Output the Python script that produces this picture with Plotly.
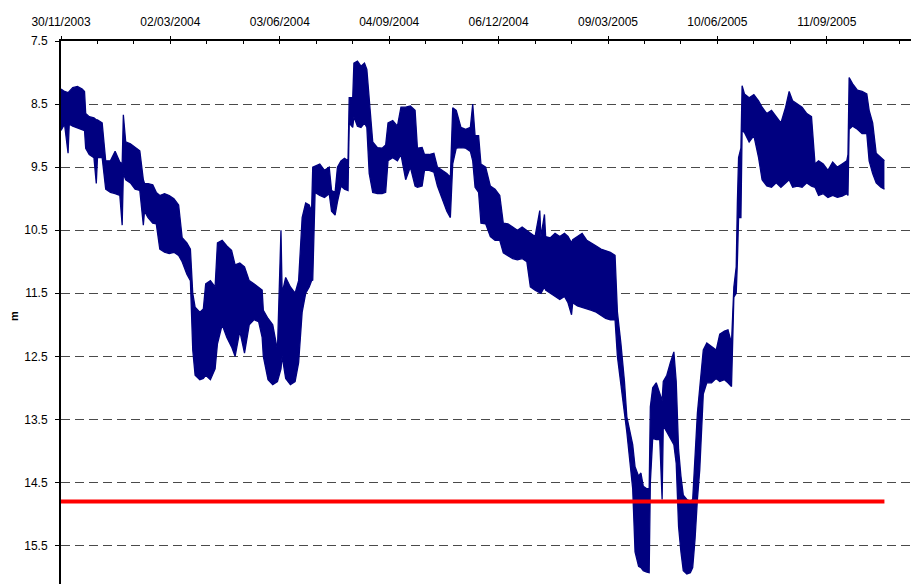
import plotly.graph_objects as go

# Water level (m below reference), daily envelope of the logged readings
dates = [
    "2003-11-30", "2003-12-03", "2003-12-06", "2003-12-07", "2003-12-10", "2003-12-14",
    "2003-12-18", "2003-12-20", "2003-12-21", "2003-12-24", "2003-12-28", "2003-12-30",
    "2003-12-31", "2004-01-04", "2004-01-07", "2004-01-11", "2004-01-15", "2004-01-19",
    "2004-01-21", "2004-01-22", "2004-01-24", "2004-01-28", "2004-02-01", "2004-02-05",
    "2004-02-08", "2004-02-09", "2004-02-12", "2004-02-16", "2004-02-19", "2004-02-22",
    "2004-02-26", "2004-03-01", "2004-03-05", "2004-03-09", "2004-03-12", "2004-03-16",
    "2004-03-19", "2004-03-21", "2004-03-23", "2004-03-27", "2004-03-30", "2004-04-01",
    "2004-04-05", "2004-04-09", "2004-04-11", "2004-04-15", "2004-04-19", "2004-04-23",
    "2004-04-26", "2004-04-30", "2004-05-04", "2004-05-08", "2004-05-12", "2004-05-16",
    "2004-05-19", "2004-05-20", "2004-05-24", "2004-05-28", "2004-06-01", "2004-06-04",
    "2004-06-05", "2004-06-08", "2004-06-12", "2004-06-16", "2004-06-19", "2004-06-22",
    "2004-06-25", "2004-06-28", "2004-06-30", "2004-07-01", "2004-07-03", "2004-07-07",
    "2004-07-11", "2004-07-15", "2004-07-17", "2004-07-20", "2004-07-22", "2004-07-25",
    "2004-07-28", "2004-07-31", "2004-08-01", "2004-08-04", "2004-08-05", "2004-08-08",
    "2004-08-11", "2004-08-14", "2004-08-16", "2004-08-18", "2004-08-21", "2004-08-25",
    "2004-08-29", "2004-09-01", "2004-09-03", "2004-09-07", "2004-09-11", "2004-09-14",
    "2004-09-18", "2004-09-22", "2004-09-26", "2004-09-28", "2004-10-02", "2004-10-04",
    "2004-10-08", "2004-10-12", "2004-10-15", "2004-10-19", "2004-10-23", "2004-10-26",
    "2004-10-28", "2004-10-31", "2004-11-04", "2004-11-08", "2004-11-12", "2004-11-14",
    "2004-11-16", "2004-11-19", "2004-11-21", "2004-11-25", "2004-11-29", "2004-12-03",
    "2004-12-07", "2004-12-10", "2004-12-14", "2004-12-18", "2004-12-22", "2004-12-26",
    "2004-12-30", "2005-01-02", "2005-01-06", "2005-01-10", "2005-01-11", "2005-01-14",
    "2005-01-15", "2005-01-19", "2005-01-23", "2005-01-27", "2005-01-31", "2005-02-03",
    "2005-02-06", "2005-02-07", "2005-02-11", "2005-02-15", "2005-02-19", "2005-02-23",
    "2005-02-27", "2005-03-03", "2005-03-07", "2005-03-11", "2005-03-15", "2005-03-17",
    "2005-03-20", "2005-03-23", "2005-03-25", "2005-03-28", "2005-03-30", "2005-04-01",
    "2005-04-04", "2005-04-06", "2005-04-08", "2005-04-11", "2005-04-13", "2005-04-14",
    "2005-04-16", "2005-04-19", "2005-04-22", "2005-04-24", "2005-04-25", "2005-04-28",
    "2005-05-01", "2005-05-04", "2005-05-06", "2005-05-08", "2005-05-10", "2005-05-12",
    "2005-05-15", "2005-05-18", "2005-05-20", "2005-05-22", "2005-05-24", "2005-05-26",
    "2005-05-29", "2005-06-01", "2005-06-05", "2005-06-09", "2005-06-12", "2005-06-16",
    "2005-06-19", "2005-06-22", "2005-06-24", "2005-06-26", "2005-06-27", "2005-06-28",
    "2005-06-30", "2005-07-01", "2005-07-03", "2005-07-07", "2005-07-11", "2005-07-15",
    "2005-07-18", "2005-07-22", "2005-07-26", "2005-07-30", "2005-08-03", "2005-08-07",
    "2005-08-10", "2005-08-13", "2005-08-17", "2005-08-21", "2005-08-25", "2005-08-29",
    "2005-09-01", "2005-09-04", "2005-09-08", "2005-09-12", "2005-09-16", "2005-09-20",
    "2005-09-24", "2005-09-28", "2005-09-29", "2005-09-30", "2005-10-03", "2005-10-07",
    "2005-10-11", "2005-10-15", "2005-10-17", "2005-10-20", "2005-10-23", "2005-10-27",
    "2005-10-30",
]

level_min = [
    8.26, 8.30, 8.32, 8.30, 8.24, 8.22, 8.26, 8.30, 8.65, 8.70, 8.72, 8.75,
    8.75, 8.80, 9.40, 9.40, 9.25, 9.42, 9.45, 8.67, 9.10, 9.13, 9.18, 9.24,
    9.70, 9.76, 9.76, 9.78, 9.90, 9.95, 9.92, 9.95, 10.00, 10.10, 10.62, 10.70,
    10.80, 11.50, 11.72, 11.80, 11.75, 11.35, 11.30, 11.40, 10.70, 10.66, 10.75, 10.82,
    11.05, 11.02, 11.08, 11.30, 11.35, 11.40, 11.45, 11.77, 11.90, 12.00, 12.40, 10.50,
    11.50, 11.25, 11.40, 11.50, 11.30, 10.30, 10.07, 10.10, 10.20, 9.50, 9.48, 9.45,
    9.55, 9.50, 9.87, 9.90, 9.50, 9.40, 9.36, 9.40, 8.40, 8.40, 7.85, 7.82,
    7.90, 7.85, 7.95, 8.45, 9.10, 9.19, 9.20, 9.15, 8.80, 8.76, 8.85, 8.55,
    8.55, 8.53, 8.60, 9.20, 9.19, 9.30, 9.30, 9.28, 9.50, 9.55, 9.60, 9.66,
    8.56, 8.60, 8.87, 8.90, 8.87, 8.50, 9.00, 9.00, 9.45, 9.50, 9.80, 9.85,
    9.95, 10.39, 10.40, 10.45, 10.50, 10.45, 10.50, 10.55, 10.60, 10.19, 10.60, 10.25,
    10.60, 10.62, 10.55, 10.60, 10.55, 10.60, 10.70, 10.65, 10.60, 10.55, 10.66, 10.70,
    10.75, 10.80, 10.82, 10.85, 10.90, 11.80, 12.30, 12.90, 13.46, 13.70, 13.90, 14.25,
    14.40, 14.35, 14.56, 14.60, 14.60, 13.30, 13.00, 12.92, 13.10, 13.20, 12.90, 12.80,
    12.60, 12.43, 12.90, 13.98, 14.40, 14.70, 14.77, 14.80, 14.77, 14.00, 13.40, 13.00,
    12.40, 12.29, 12.35, 12.40, 12.15, 12.10, 12.08, 12.29, 11.40, 11.08, 10.05, 9.35,
    9.20, 8.21, 8.34, 8.40, 8.35, 8.45, 8.55, 8.65, 8.60, 8.70, 8.80, 8.55,
    8.30, 8.45, 8.50, 8.55, 8.65, 8.70, 9.45, 9.40, 9.45, 9.55, 9.42, 9.50,
    9.45, 9.40, 9.30, 8.08, 8.18, 8.28, 8.30, 8.34, 8.60, 8.80, 9.28, 9.35,
    9.40,
]

level_max = [
    8.92, 8.82, 9.28, 8.82, 8.85, 8.88, 8.90, 8.92, 9.20, 9.30, 9.35, 9.76,
    9.35, 9.35, 9.85, 9.90, 9.92, 9.95, 10.42, 9.60, 9.70, 9.75, 9.85, 9.87,
    10.42, 10.20, 10.30, 10.39, 10.40, 10.80, 10.85, 10.87, 10.85, 10.90, 11.00, 11.20,
    11.30, 12.40, 12.80, 12.87, 12.85, 12.80, 12.87, 12.70, 12.30, 12.00, 12.20, 12.35,
    12.50, 12.10, 12.45, 12.00, 11.92, 11.95, 12.20, 12.50, 12.87, 12.95, 12.90, 12.70,
    12.50, 12.85, 12.95, 12.90, 12.60, 11.80, 11.50, 11.40, 11.30, 11.29, 9.90, 9.95,
    9.98, 9.92, 10.20, 10.26, 10.05, 9.80, 9.85, 9.87, 8.80, 8.87, 8.70, 8.85,
    8.87, 8.80, 8.87, 9.60, 9.90, 9.92, 9.92, 9.90, 9.40, 9.35, 9.40, 9.30,
    9.70, 9.50, 9.80, 9.82, 9.80, 9.55, 9.55, 9.58, 9.80, 10.00, 10.20, 10.30,
    9.45, 9.20, 9.19, 9.20, 9.25, 9.40, 9.82, 9.90, 10.39, 10.40, 10.60, 10.66,
    10.66, 10.86, 10.90, 10.95, 10.97, 10.95, 11.00, 11.40, 11.45, 11.50, 11.50, 11.40,
    11.45, 11.50, 11.55, 11.60, 11.55, 11.65, 11.84, 11.65, 11.70, 11.72, 11.75, 11.77,
    11.80, 11.85, 11.90, 11.92, 11.92, 12.50, 13.00, 13.40, 13.70, 14.20, 14.60, 15.60,
    15.83, 15.85, 15.90, 15.92, 15.93, 14.50, 13.80, 13.82, 13.82, 14.77, 13.60, 13.70,
    13.80, 13.90, 14.20, 15.20, 15.60, 15.90, 15.95, 15.93, 15.85, 15.40, 14.77, 14.30,
    13.10, 12.92, 12.92, 12.85, 12.90, 12.87, 12.92, 12.98, 11.56, 11.50, 11.00, 10.30,
    10.30, 8.92, 8.95, 9.10, 9.00, 9.35, 9.70, 9.80, 9.82, 9.75, 9.82, 9.75,
    9.70, 9.82, 9.80, 9.82, 9.75, 9.80, 9.82, 9.95, 9.92, 9.98, 9.95, 9.98,
    9.96, 9.92, 9.95, 8.90, 8.85, 8.90, 8.97, 8.97, 9.40, 9.60, 9.75, 9.82,
    9.85,
]

# Alert level drawn across the monitoring period
alert_level = 14.8
alert_span = ["2003-11-30", "2005-10-30"]

x_range = ["2003-11-30", "2005-11-21 14:00"]
y_range = [16.11, 7.5]
tick_start = "2003-11-30"
DAY_MS = 86400000

NAVY = "#000080"
FONT = "Liberation Sans, Arial, sans-serif"

fig = go.Figure()

fig.add_trace(go.Scatter(
    x=dates, y=level_min, mode="lines",
    line=dict(color=NAVY, width=1.3), hoverinfo="skip", showlegend=False,
))
fig.add_trace(go.Scatter(
    x=dates, y=level_max, mode="lines", fill="tonexty", fillcolor=NAVY,
    line=dict(color=NAVY, width=1.3), hoverinfo="skip", showlegend=False,
))
fig.add_trace(go.Scatter(
    x=alert_span, y=[alert_level, alert_level], mode="lines",
    line=dict(color="#FF0000", width=4), xaxis="x2", showlegend=False,
))

fig.update_layout(
    width=911, height=584,
    margin=dict(l=61, r=0, t=41, b=0),
    paper_bgcolor="white", plot_bgcolor="white",
    font=dict(family=FONT, size=12, color="#000000"),
    showlegend=False,
    xaxis=dict(
        type="date", side="top", range=x_range,
        tickmode="linear", tick0=tick_start, dtick=93 * DAY_MS,
        tickformat="%d/%m/%Y",
        ticks="outside", ticklen=3, tickwidth=1, tickcolor="#000000",
        ticklabelstandoff=5,
        showline=True, linecolor="#000000", linewidth=1.5,
        showgrid=False, zeroline=False,
        tickfont=dict(family=FONT, size=12, color="#000000"),
    ),
    xaxis2=dict(
        type="date", overlaying="x", side="top", range=x_range,
        tickmode="linear", tick0=tick_start, dtick=31 * DAY_MS,
        ticks="inside", ticklen=3, tickwidth=1, tickcolor="#000000",
        showticklabels=False, showline=False, showgrid=False, zeroline=False,
    ),
    yaxis=dict(
        range=y_range, tickmode="linear", tick0=7.5, dtick=1,
        ticks="outside", ticklen=4, tickwidth=1, tickcolor="#000000",
        ticklabelstandoff=5,
        showline=True, linecolor="#000000", linewidth=2,
        showgrid=True, gridcolor="#4a4a4a", gridwidth=1, griddash="9px,5px",
        zeroline=False,
        tickfont=dict(family=FONT, size=12, color="#000000"),
    ),
    annotations=[dict(
        text="<b>m</b>", xref="paper", yref="paper",
        x=-0.055, y=0.494, xanchor="center", yanchor="middle",
        textangle=-90, showarrow=False,
        font=dict(family=FONT, size=11, color="#000000"),
    )],
)

fig.write_html("out.html")
